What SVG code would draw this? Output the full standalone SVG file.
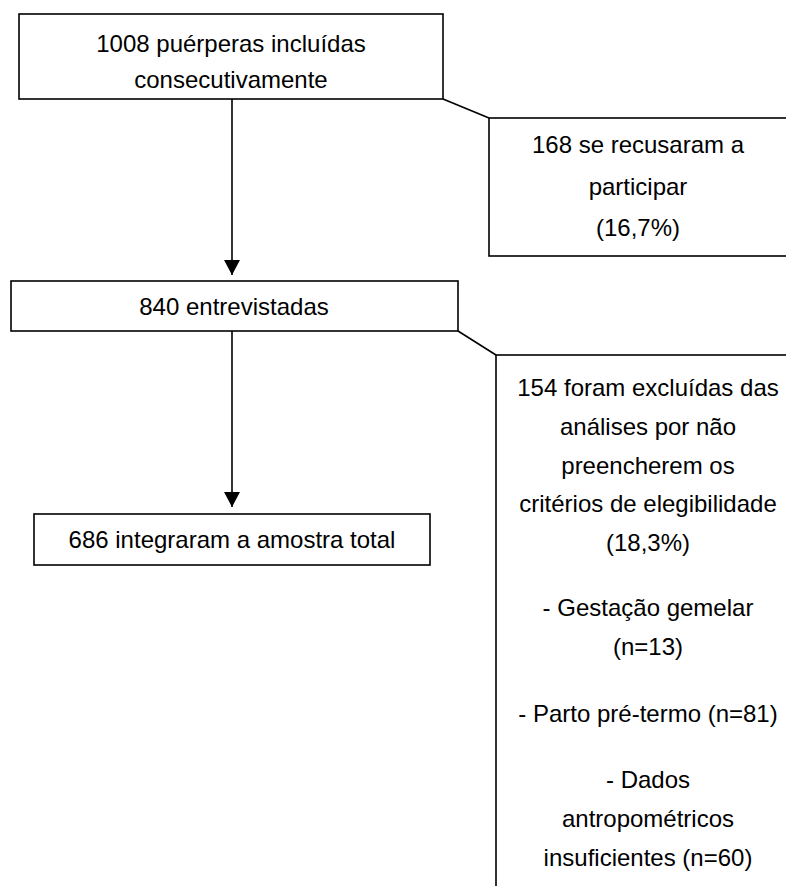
<svg xmlns="http://www.w3.org/2000/svg" width="786" height="886" viewBox="0 0 786 886">
<style>
.box{fill:#fff;stroke:#000;stroke-width:1.6}
.t{font-family:"Liberation Sans",Arial,sans-serif;font-size:24px;fill:#000;text-anchor:middle}
.c{fill:none;stroke:#000;stroke-width:1.6}
</style>
<defs>
<marker id="ah" viewBox="0 0 15 16" refX="15" refY="8" markerWidth="15" markerHeight="16" orient="auto" markerUnits="userSpaceOnUse">
<path d="M0,0 L15,8 L0,16 z" fill="#000"/>
</marker>
</defs>
<rect width="786" height="886" fill="#fff"/>
<g id="connectors">
<line class="c" x1="232" y1="99" x2="232" y2="275" marker-end="url(#ah)"/>
<line class="c" x1="232" y1="331" x2="232" y2="507" marker-end="url(#ah)"/>
<line class="c" x1="443" y1="99" x2="489" y2="118"/>
<line class="c" x1="458" y1="331" x2="496" y2="355"/>
</g>
<g id="n1">
<rect class="box" x="19" y="14" width="424" height="85"/>
<text class="t" x="231" y="52">1008 puérperas incluídas</text>
<text class="t" x="231" y="88">consecutivamente</text>
</g>
<g id="n2">
<rect class="box" x="489" y="118" width="299" height="138"/>
<text class="t" x="638" y="153">168 se recusaram a</text>
<text class="t" x="638" y="195">participar</text>
<text class="t" x="638" y="236">(16,7%)</text>
</g>
<g id="n3">
<rect class="box" x="11" y="281" width="447" height="50"/>
<text class="t" x="234" y="315">840 entrevistadas</text>
</g>
<g id="n4">
<rect class="box" x="496" y="355" width="306" height="560"/>
<text class="t" x="648" y="396">154 foram excluídas das</text>
<text class="t" x="648" y="435">análises por não</text>
<text class="t" x="648" y="474">preencherem os</text>
<text class="t" x="648" y="512">critérios de elegibilidade</text>
<text class="t" x="648" y="551">(18,3%)</text>
<text class="t" x="648" y="616">- Gestação gemelar</text>
<text class="t" x="648" y="655">(n=13)</text>
<text class="t" x="648" y="722">- Parto pré-termo (n=81)</text>
<text class="t" x="648" y="788">- Dados</text>
<text class="t" x="648" y="827">antropométricos</text>
<text class="t" x="648" y="866">insuficientes (n=60)</text>
</g>
<g id="n5">
<rect class="box" x="34" y="514" width="396" height="51"/>
<text class="t" x="232" y="548">686 integraram a amostra total</text>
</g>
</svg>
